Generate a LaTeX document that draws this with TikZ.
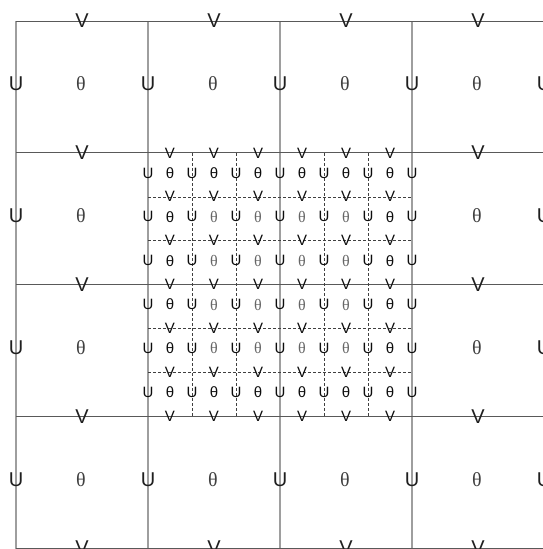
\documentclass[tikz,border=0pt]{standalone}
\usepackage{fontspec}
\setmainfont{Liberation Sans}
\newfontfamily\serifth{Liberation Serif}
\begin{document}
\begin{tikzpicture}[x=1pt,y=-1pt,
  lab/.style={inner sep=0pt, text=black!88},
  big/.style={lab, font=\fontsize{20}{20}\selectfont},
  bigth/.style={lab, text=black!75, font=\serifth\fontsize{20}{20}\selectfont},
  small/.style={lab, text=black!95, font=\fontsize{15}{15}\selectfont},
  smallth/.style={lab, text=black!60, font=\serifth\fontsize{16}{16}\selectfont},
  hline/.style={draw=black!65, line width=0.9pt},
  vline/.style={draw=black!38, line width=1.1pt},
  fineline/.style={draw=black!75, line width=0.6pt, dash pattern=on 3pt off 2pt}]
\useasboundingbox (0,0) rectangle (543,549);
% coarse grid
\foreach \i in {0,...,3} \draw[vline] ({16+132*\i},21) -- ({16+132*\i},549);
\foreach \j in {0,...,4} \draw[hline] (16,{21+131.75*\j}) -- (543,{21+131.75*\j});
% fine dashed grid
\foreach \a in {1,2,4,5} \draw[fineline] ({148+44*\a},153) -- ({148+44*\a},416);
\foreach \b in {1,2,4,5} \draw[fineline] (148,{153+43.83*\b}) -- (412,{153+43.83*\b});
% coarse labels
\foreach \i in {0,...,4} \foreach \j in {0,...,3} {
  \pgfmathtruncatemacro\sk{((\j>0)&&(\j<3)&&(\i>0)&&(\i<4)) ? 1 : 0}
  \ifnum\sk=0 \node[big] (cu-\i-\j) at ({16+132*\i},{21+131.75*\j+63}) {U}; \fi
}
\foreach \i in {0,...,3} \foreach \j in {0,...,4} {
  \pgfmathtruncatemacro\sk{((\i>0)&&(\i<3)&&(\j>0)&&(\j<4)) ? 1 : 0}
  \ifnum\sk=0 \node[big] (cv-\i-\j) at ({82+132*\i},{21+131.75*\j}) {V}; \fi
}
\foreach \i in {0,...,3} \foreach \j in {0,...,3} {
  \pgfmathtruncatemacro\sk{((\i>0)&&(\i<3)&&(\j>0)&&(\j<3)) ? 1 : 0}
  \ifnum\sk=0 \node[bigth] (ct-\i-\j) at ({81+132*\i},{21+131.75*\j+63}) {θ}; \fi
}
% fine labels
\foreach \a in {0,...,6} \foreach \b in {0,...,5}
  \node[small] (fu-\a-\b) at ({148+44*\a},{153+43.83*\b+20}) {U};
\foreach \a in {0,...,5} \foreach \b in {0,...,6}
  \node[small] (fv-\a-\b) at ({170+44*\a},{153+43.83*\b}) {V};
\foreach \a in {0,...,5} \foreach \b in {0,...,5} {
  \pgfmathtruncatemacro\edge{((\a==0)||(\a==5)||(\b==0)||(\b==5)) ? 1 : 0}
  \ifnum\edge=1
    \node[small] (ft-\a-\b) at ({170+44*\a},{153+43.83*\b+20}) {θ};
  \else
    \node[smallth] (ft-\a-\b) at ({170+44*\a},{153+43.83*\b+20}) {θ};
  \fi
}
\end{tikzpicture}
\end{document}
